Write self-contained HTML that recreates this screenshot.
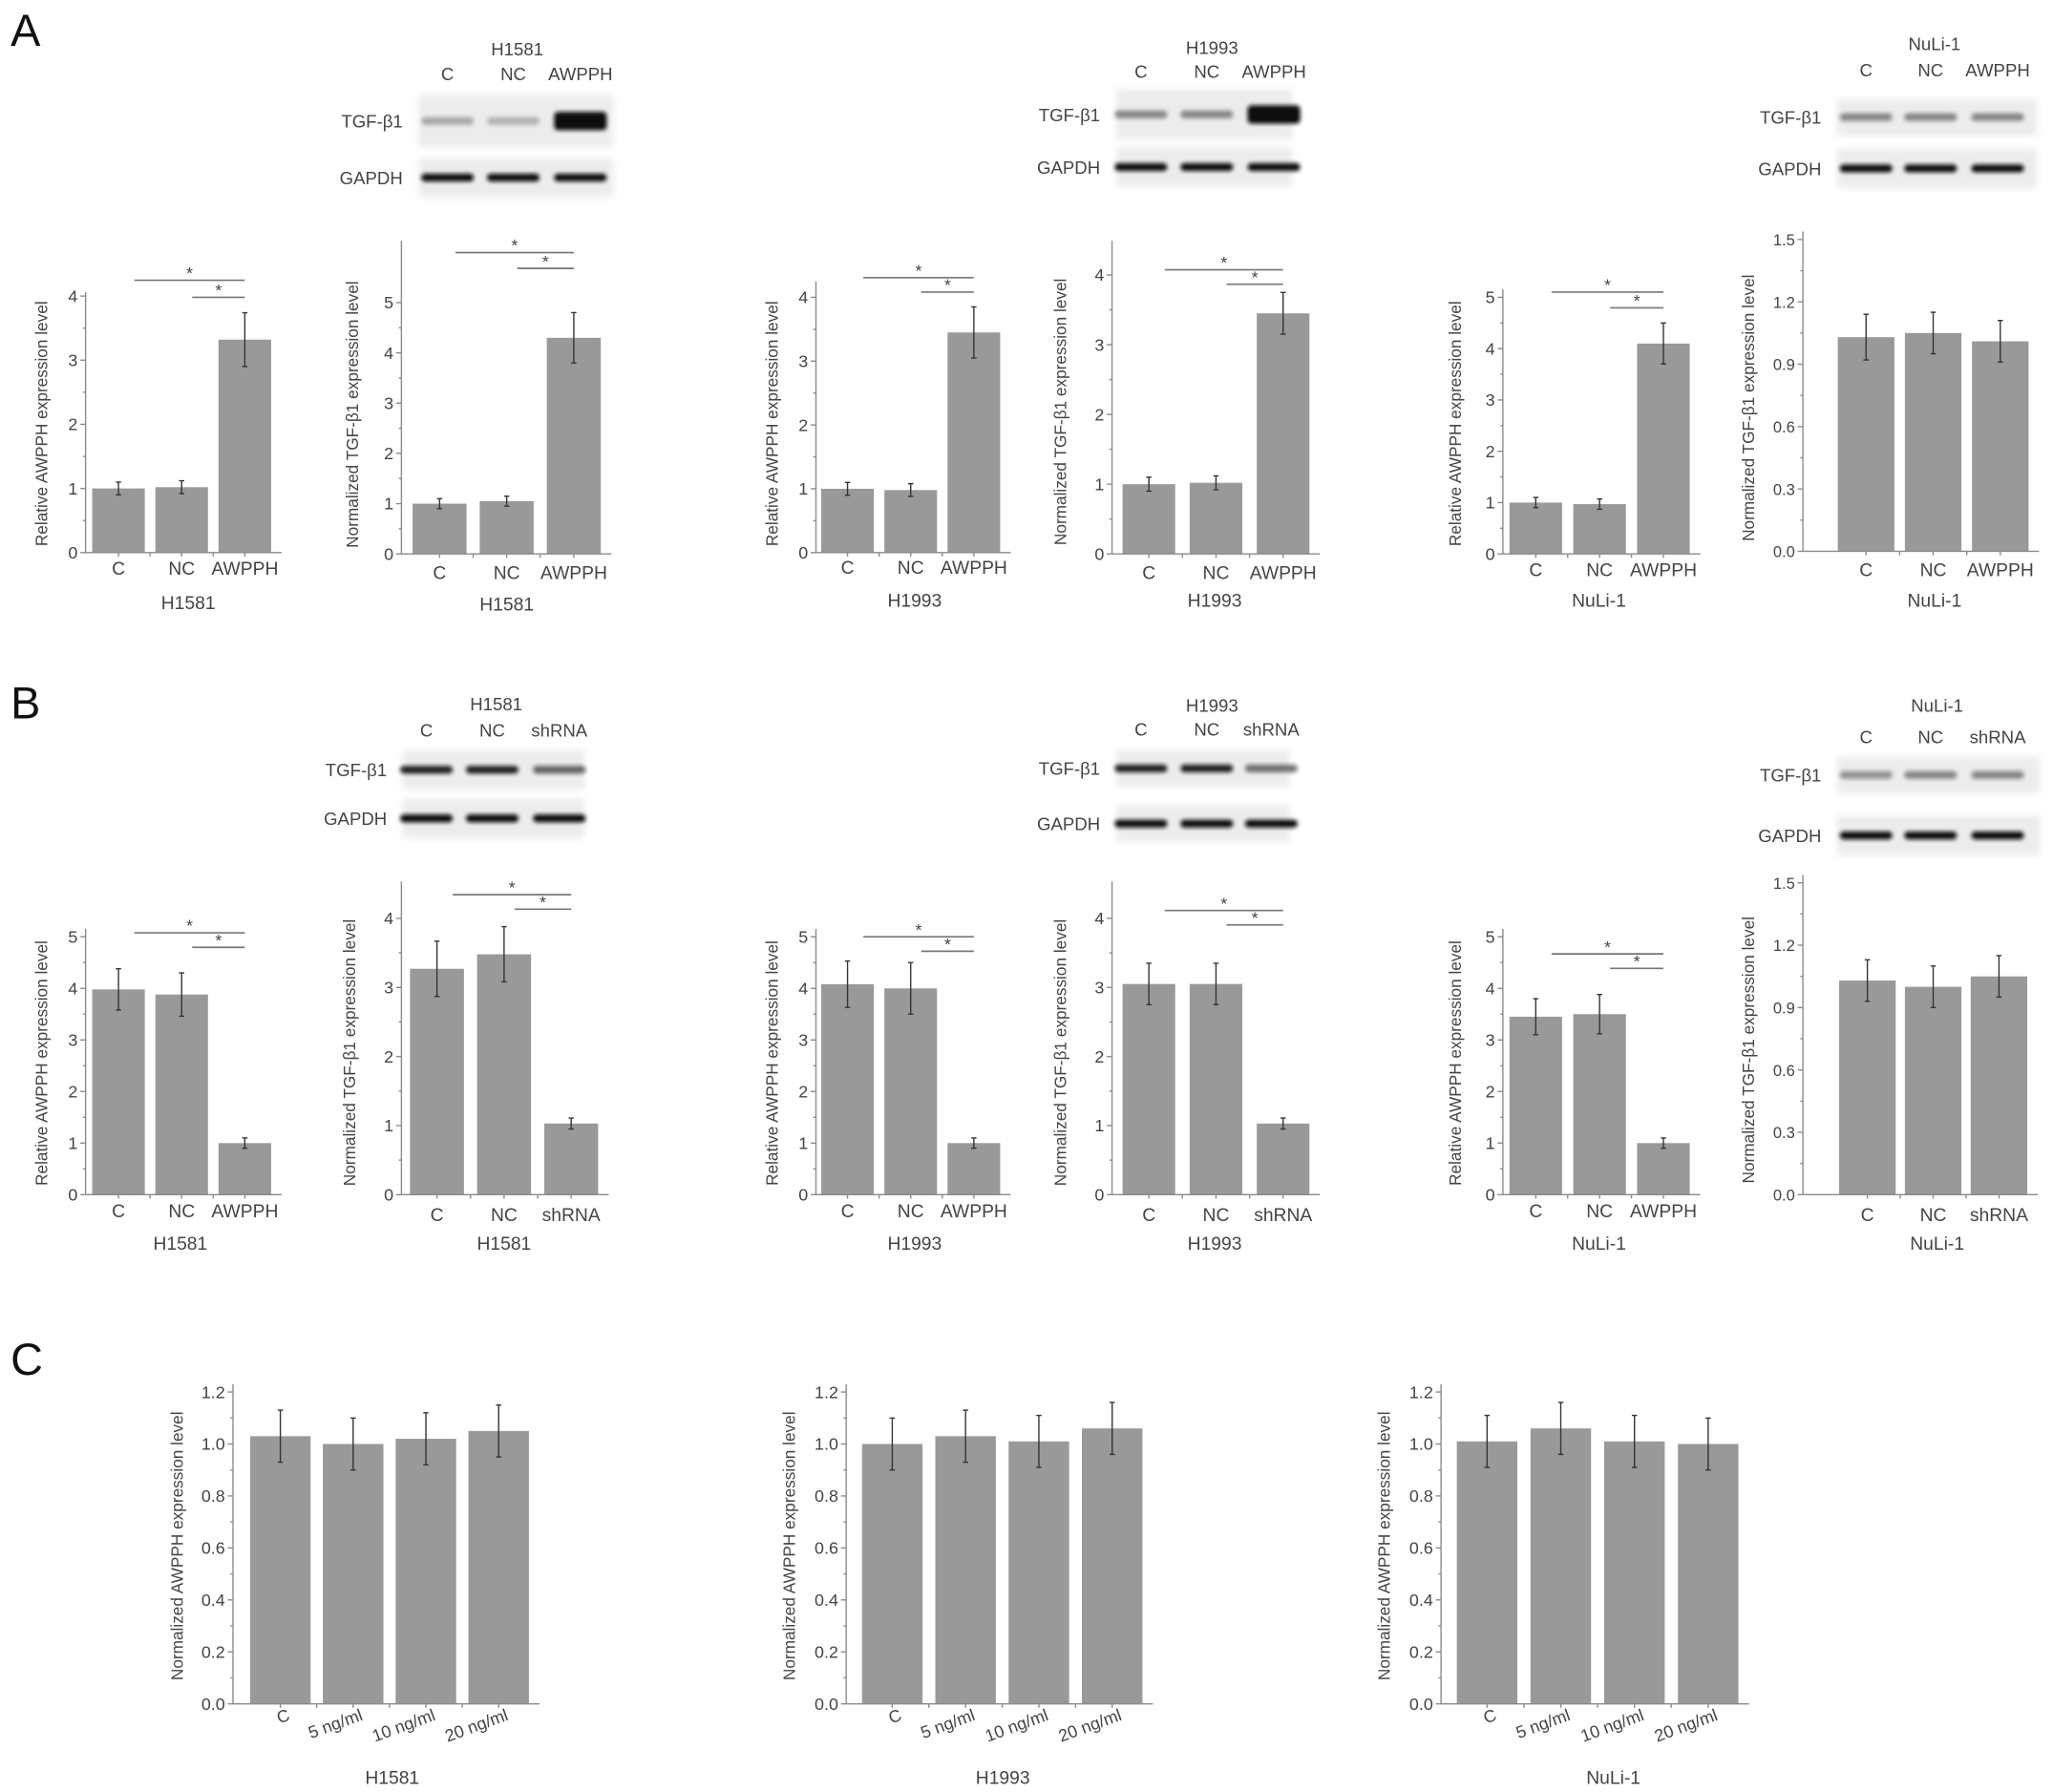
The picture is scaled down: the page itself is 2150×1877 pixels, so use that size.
<!DOCTYPE html>
<html><head><meta charset="utf-8"><style>
html,body{margin:0;padding:0;background:#fff;}
svg{display:block;font-family:"Liberation Sans",sans-serif;}
</style></head><body>
<svg id="fig" width="2150" height="1877" viewBox="0 0 1560 1362" xmlns="http://www.w3.org/2000/svg">
<defs>
<filter id="blur1" x="-20%" y="-50%" width="140%" height="200%"><feGaussianBlur stdDeviation="1.6"/></filter>
<filter id="blur2" x="-10%" y="-10%" width="120%" height="120%"><feGaussianBlur stdDeviation="2.5"/></filter>
</defs>
<text x="8" y="35" font-size="34" fill="#111">A</text>
<text x="8" y="546" font-size="34" fill="#111">B</text>
<text x="8" y="1045" font-size="34" fill="#111">C</text>
<g id="charts"></g>
</svg>
<script>
// ---- data arrays ----
const catsA1 = ["C","NC","AWPPH"]; const valsA1 = [1.0,1.02,3.32]; const errsA1 = [0.1,0.1,0.42];
const catsA2 = ["C","NC","AWPPH"]; const valsA2 = [1.0,1.05,4.3]; const errsA2 = [0.1,0.1,0.5];
const catsA3 = ["C","NC","AWPPH"]; const valsA3 = [1.0,0.98,3.45]; const errsA3 = [0.1,0.1,0.4];
const catsA4 = ["C","NC","AWPPH"]; const valsA4 = [1.0,1.02,3.45]; const errsA4 = [0.1,0.1,0.3];
const catsA5 = ["C","NC","AWPPH"]; const valsA5 = [1.0,0.97,4.1]; const errsA5 = [0.1,0.1,0.4];
const catsA6 = ["C","NC","AWPPH"]; const valsA6 = [1.03,1.05,1.01]; const errsA6 = [0.11,0.1,0.1];
const catsB1 = ["C","NC","AWPPH"]; const valsB1 = [3.98,3.88,1.0]; const errsB1 = [0.4,0.42,0.1];
const catsB2 = ["C","NC","shRNA"]; const valsB2 = [3.27,3.48,1.03]; const errsB2 = [0.4,0.4,0.08];
const catsB3 = ["C","NC","AWPPH"]; const valsB3 = [4.08,4.0,1.0]; const errsB3 = [0.45,0.5,0.1];
const catsB4 = ["C","NC","shRNA"]; const valsB4 = [3.05,3.05,1.03]; const errsB4 = [0.3,0.3,0.08];
const catsB5 = ["C","NC","AWPPH"]; const valsB5 = [3.45,3.5,1.0]; const errsB5 = [0.35,0.38,0.1];
const catsB6 = ["C","NC","shRNA"]; const valsB6 = [1.03,1.0,1.05]; const errsB6 = [0.1,0.1,0.1];
const catsC = ["C","5 ng/ml","10 ng/ml","20 ng/ml"];
const valsC1 = [1.03,1.0,1.02,1.05]; const errsC1 = [0.1,0.1,0.1,0.1];
const valsC2 = [1.0,1.03,1.01,1.06]; const errsC2 = [0.1,0.1,0.1,0.1];
const valsC3 = [1.01,1.06,1.01,1.0]; const errsC3 = [0.1,0.1,0.1,0.1];
const ticks5 = ["0","1","2","3","4","5"];
const ticks4 = ["0","1","2","3","4"];
const ticks15 = ["0.0","0.3","0.6","0.9","1.2","1.5"];
const ticks12 = ["0.0","0.2","0.4","0.6","0.8","1.0","1.2"];

const NS="http://www.w3.org/2000/svg";
const root=document.getElementById('charts');
function mk(tag,attrs,parent,text){const e=document.createElementNS(NS,tag);for(const k in attrs)e.setAttribute(k,attrs[k]);if(text!==undefined)e.textContent=text;(parent||root).appendChild(e);return e;}

function chart(o){
  const g=mk('g',{});
  
  
  const ticks=o.ticks; const tmax=parseFloat(ticks[ticks.length-1]);
  const y=v=>o.y0-(v/tmax)*(o.y0-o.yTop);
  const x=i=>o.x0+o.first+i*o.step;
  const axc="#8a8a8a";
  o.vals.forEach((v,i)=>{
    const r=mk('rect',{x:x(i)-o.bw/2,y:y(v),width:o.bw,height:o.y0-y(v),fill:"#999"},g);
    
    
    const e=o.errs[i];
    const eb=mk('path',{d:`M${x(i)},${y(v+e)}V${y(v-e)}M${x(i)-2},${y(v+e)}H${x(i)+2}M${x(i)-2},${y(v-e)}H${x(i)+2}`,stroke:"#333",'stroke-width':1,fill:"none"},g);
    
    
  });
  const xEnd=x(o.cats.length-1)+o.bw/2+8;
  mk('line',{x1:o.x0,y1:o.y0,x2:o.x0,y2:o.axTop,stroke:axc,'stroke-width':1},g);
  mk('line',{x1:o.x0,y1:o.y0,x2:xEnd,y2:o.y0,stroke:axc,'stroke-width':1},g);
  ticks.forEach((t,i)=>{
    const v=parseFloat(t); const yy=y(v);
    mk('line',{x1:o.x0-4,y1:yy,x2:o.x0,y2:yy,stroke:axc},g);
    if(i<ticks.length-1){const ym=y(v+(tmax/(ticks.length-1))/2);mk('line',{x1:o.x0-2,y1:ym,x2:o.x0,y2:ym,stroke:axc},g);}
    const tl=mk('text',{x:o.x0-6,y:yy+4.5,'font-size':o.tfs||13,fill:"#444",'text-anchor':"end"},g,t);
    
    
  });
  o.cats.forEach((c,i)=>{
    mk('line',{x1:x(i),y1:o.y0,x2:x(i),y2:o.y0+3,stroke:axc},g);
    if(i<o.cats.length-1) mk('line',{x1:x(i)+o.step/2,y1:o.y0,x2:x(i)+o.step/2,y2:o.y0+3,stroke:axc},g);
    let t;
    if(o.rot){
      t=mk('text',{x:x(i)+8,y:o.y0+12,'font-size':13,fill:"#444",'text-anchor':"end",transform:`rotate(-20 ${x(i)+8} ${o.y0+12})`},g,c);
    } else {
      t=mk('text',{x:x(i),y:o.y0+o.catDy,'font-size':14,fill:"#444",'text-anchor':"middle"},g,c);
    }
    
    
  });
  const yl=mk('text',{x:0,y:0,'font-size':12.5,fill:"#444",'text-anchor':"middle",transform:`translate(${o.ylx},${o.yly}) rotate(-90)`},g,o.ylabel);
  
  
  const gl=mk('text',{x:o.glx,y:o.gly,'font-size':14,fill:"#444",'text-anchor':"middle"},g,o.group);
  
  
  if(o.sig){
    const [s1,s2]=o.sig; const xe=x(2);
    mk('line',{x1:x(0)+12,y1:s1,x2:xe,y2:s1,stroke:"#777",'stroke-width':1.2},g);
    mk('text',{x:(x(0)+12+xe)/2,y:s1-1,'font-size':13,fill:"#444",'text-anchor':"middle"},g,"*");
    mk('line',{x1:x(1)+8,y1:s2,x2:xe,y2:s2,stroke:"#777",'stroke-width':1.2},g);
    mk('text',{x:(x(1)+8+xe)/2,y:s2-1,'font-size':13,fill:"#444",'text-anchor':"middle"},g,"*");
  }
}
const AW="Relative AWPPH expression level", TG="Normalized TGF-β1 expression level";
chart({name:'chart-a-h1581-awpph',cats:catsA1,vals:valsA1,errs:errsA1,ticks:ticks4,x0:65,y0:420,yTop:225,axTop:222,first:25,step:48,bw:40,catDy:17,ylabel:AW,ylx:36,yly:322,group:"H1581",glx:143,gly:463,sig:[213,226]});
chart({name:'chart-a-h1581-tgf',cats:catsA2,vals:valsA2,errs:errsA2,ticks:ticks5,x0:305,y0:421,yTop:230,axTop:183,first:29,step:51,bw:41,catDy:19,ylabel:TG,ylx:272,yly:315,group:"H1581",glx:385,gly:464,sig:[192,204]});
chart({name:'chart-a-h1993-awpph',cats:catsA3,vals:valsA3,errs:errsA3,ticks:ticks4,x0:620,y0:420,yTop:226,axTop:214,first:24,step:48,bw:40,catDy:16,ylabel:AW,ylx:591,yly:322,group:"H1993",glx:695,gly:461,sig:[211,222]});
chart({name:'chart-a-h1993-tgf',cats:catsA4,vals:valsA4,errs:errsA4,ticks:ticks4,x0:845,y0:421,yTop:209,axTop:183,first:28,step:51,bw:40,catDy:19,ylabel:TG,ylx:810,yly:313,group:"H1993",glx:923,gly:461,sig:[205,216]});
chart({name:'chart-a-nuli-awpph',cats:catsA5,vals:valsA5,errs:errsA5,ticks:ticks5,x0:1142,y0:421,yTop:226,axTop:220,first:25,step:48.5,bw:40,catDy:17,ylabel:AW,ylx:1110,yly:322,group:"NuLi-1",glx:1215,gly:461,sig:[222,234]});
chart({name:'chart-a-nuli-tgf',cats:catsA6,vals:valsA6,errs:errsA6,ticks:ticks15,x0:1370,y0:419,yTop:182,axTop:176,first:48,step:51,bw:43,catDy:19,tfs:12,ylabel:TG,ylx:1333,yly:310,group:"NuLi-1",glx:1470,gly:461});
chart({name:'chart-b-h1581-awpph',cats:catsB1,vals:valsB1,errs:errsB1,ticks:ticks5,x0:65,y0:908,yTop:712,axTop:706,first:25,step:48,bw:40,catDy:17,ylabel:AW,ylx:36,yly:808,group:"H1581",glx:137,gly:950,sig:[709,720]});
chart({name:'chart-b-h1581-tgf',cats:catsB2,vals:valsB2,errs:errsB2,ticks:ticks4,x0:305,y0:908,yTop:698,axTop:670,first:27,step:51,bw:41,catDy:20,ylabel:TG,ylx:270,yly:800,group:"H1581",glx:383,gly:950,sig:[680,691]});
chart({name:'chart-b-h1993-awpph',cats:catsB3,vals:valsB3,errs:errsB3,ticks:ticks5,x0:620,y0:908,yTop:712,axTop:706,first:24,step:48,bw:40,catDy:17,ylabel:AW,ylx:591,yly:808,group:"H1993",glx:695,gly:950,sig:[712,723]});
chart({name:'chart-b-h1993-tgf',cats:catsB4,vals:valsB4,errs:errsB4,ticks:ticks4,x0:845,y0:908,yTop:698,axTop:670,first:28,step:51,bw:40,catDy:20,ylabel:TG,ylx:810,yly:800,group:"H1993",glx:923,gly:950,sig:[692,703]});
chart({name:'chart-b-nuli-awpph',cats:catsB5,vals:valsB5,errs:errsB5,ticks:ticks5,x0:1142,y0:908,yTop:712,axTop:706,first:25,step:48.5,bw:40,catDy:17,ylabel:AW,ylx:1110,yly:808,group:"NuLi-1",glx:1215,gly:950,sig:[725,736]});
chart({name:'chart-b-nuli-tgf',cats:catsB6,vals:valsB6,errs:errsB6,ticks:ticks15,x0:1370,y0:908,yTop:671,axTop:665,first:49,step:50,bw:43,catDy:20,tfs:12,ylabel:TG,ylx:1333,yly:798,group:"NuLi-1",glx:1472,gly:950});
const NA="Normalized AWPPH expression level";
chart({name:'chart-c-h1581',cats:catsC,vals:valsC1,errs:errsC1,ticks:ticks12,x0:177,y0:1295,yTop:1058,axTop:1052,first:36,step:55.3,bw:46,rot:true,ylabel:NA,ylx:139,yly:1175,group:"H1581",glx:298,gly:1356});
chart({name:'chart-c-h1993',cats:catsC,vals:valsC2,errs:errsC2,ticks:ticks12,x0:643,y0:1295,yTop:1058,axTop:1052,first:35,step:55.7,bw:46,rot:true,ylabel:NA,ylx:604,yly:1175,group:"H1993",glx:762,gly:1356});
chart({name:'chart-c-nuli',cats:catsC,vals:valsC3,errs:errsC3,ticks:ticks12,x0:1095,y0:1295,yTop:1058,axTop:1052,first:35,step:56,bw:46,rot:true,ylabel:NA,ylx:1056,yly:1175,group:"NuLi-1",glx:1226,gly:1356});

// ---- western blots ----
const blotLanes = [["C","NC","AWPPH"],["C","NC","AWPPH"],["C","NC","AWPPH"],["C","NC","shRNA"],["C","NC","shRNA"],["C","NC","shRNA"]];
const tgfIntensity = [[0.3,0.25,1.0],[0.45,0.45,1.0],[0.45,0.45,0.45],[0.9,0.9,0.6],[0.9,0.9,0.55],[0.4,0.45,0.45]];
function blot(o,lanes,inten){
  const g=mk('g',{});
  
  
  const h=mk('text',{x:o.hx,y:o.hy,'font-size':13.5,fill:"#444",'text-anchor':"middle"},g,o.cell);
  
  
  lanes.forEach((l,i)=>{
    const t=mk('text',{x:o.lx[i],y:o.ly,'font-size':13.5,fill:"#444",'text-anchor':"middle"},g,l);
    
    
  });
  [[o.b1,"TGF-β1",inten],[o.b2,"GAPDH",[1,1,1]]].forEach(([b,lab,arr])=>{
    mk('rect',{x:o.bx,y:b[0],width:o.bwid,height:b[1]-b[0],fill:"#ececec",filter:"url(#blur2)"},g);
    arr.forEach((a,i)=>{
      const cy=(b[0]+b[1])/2; const bh= lab==="TGF-β1"&&a>0.95 ? 14 : 6;
      const r=mk('rect',{x:o.lx[i]-20,y:cy-bh/2,width:40,height:bh,rx:3,fill:"#111",opacity:a,filter:"url(#blur1)"},g);
      
      
    });
    const t=mk('text',{x:o.bx-12,y:(b[0]+b[1])/2+5,'font-size':13.5,fill:"#444",'text-anchor':"end"},g,lab);
    
    
  });
}
blot({name:'blot-a-h1581',cell:"H1581",hx:393,hy:42,lx:[340,390,441],ly:61,bx:318,bwid:148,b1:[72,112],b2:[120,150]},blotLanes[0],tgfIntensity[0]);
blot({name:'blot-a-h1993',cell:"H1993",hx:921,hy:41,lx:[867,917,968],ly:59,bx:848,bwid:134,b1:[68,106],b2:[112,142]},blotLanes[1],tgfIntensity[1]);
blot({name:'blot-a-nuli',cell:"NuLi-1",hx:1470,hy:38,lx:[1418,1467,1518],ly:58,bx:1396,bwid:152,b1:[75,103],b2:[113,143]},blotLanes[2],tgfIntensity[2]);
blot({name:'blot-b-h1581',cell:"H1581",hx:377,hy:540,lx:[324,374,425],ly:560,bx:306,bwid:138,b1:[570,600],b2:[607,637]},blotLanes[3],tgfIntensity[3]);
blot({name:'blot-b-h1993',cell:"H1993",hx:921,hy:541,lx:[867,917,966],ly:559,bx:848,bwid:132,b1:[570,598],b2:[612,640]},blotLanes[4],tgfIntensity[4]);
blot({name:'blot-b-nuli',cell:"NuLi-1",hx:1472,hy:541,lx:[1418,1467,1518],ly:565,bx:1396,bwid:154,b1:[575,603],b2:[620,650]},blotLanes[5],tgfIntensity[5]);
</script>
</body></html>
